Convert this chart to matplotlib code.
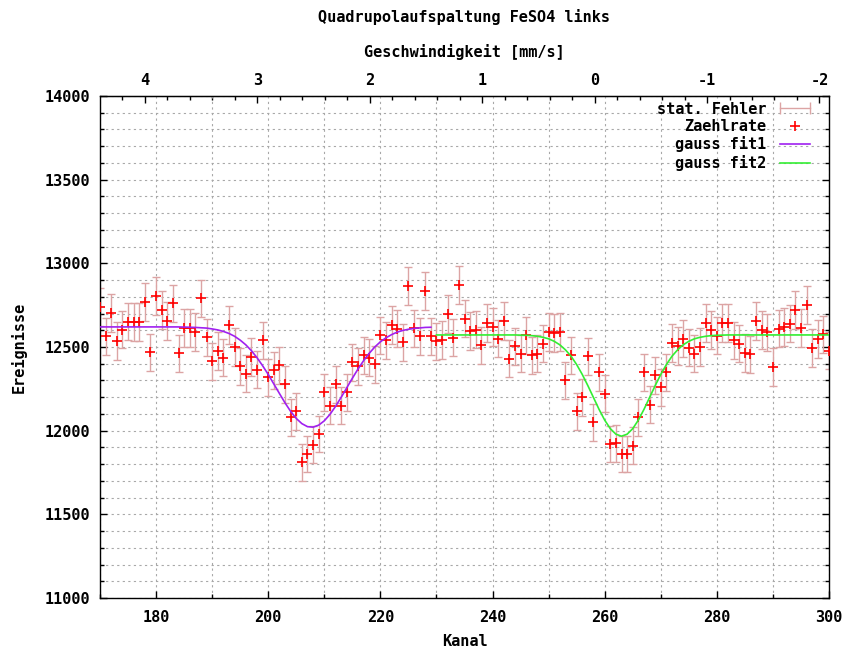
import numpy as np
import matplotlib
matplotlib.use("Agg")
import matplotlib.pyplot as plt
from matplotlib.ticker import MultipleLocator
from matplotlib.lines import Line2D
from matplotlib.legend_handler import HandlerLine2D

plt.rcParams['font.family'] = ['DejaVu Sans Mono', 'DejaVu Sans']
plt.rcParams['font.weight'] = 'bold'
plt.rcParams['axes.unicode_minus'] = False

# ---- data ----
channels = list(range(170, 301))
counts = [
    12740, 12564, 12704, 12536, 12604, 12652, 12648, 12648, 12768, 12468,   # 170-179
    12805, 12720, 12656, 12760, 12462, 12612, 12612, 12590, 12790, 12557,   # 180-189
    12415, 12476, 12436, 12630, 12500, 12384, 12340, 12440, 12364, 12540,   # 190-199
    12320, 12360, 12390, 12276, 12080, 12116, 11810, 11860, 11916, 11980,   # 200-209
    12229, 12148, 12276, 12148, 12230, 12408, 12384, 12450, 12436, 12396,   # 210-219
    12570, 12539, 12633, 12610, 12527, 12862, 12611, 12563, 12836, 12563,   # 220-229
    12534, 12541, 12696, 12556, 12870, 12670, 12596, 12604, 12510, 12644,   # 230-239
    12620, 12550, 12656, 12430, 12504, 12460, 12570, 12450, 12460, 12520,   # 240-249
    12590, 12584, 12590, 12300, 12450, 12116, 12200, 12444, 12050, 12350,   # 250-259
    12220, 11920, 11924, 11860, 11860, 11910, 12080, 12350, 12156, 12330,   # 260-269
    12260, 12350, 12524, 12507, 12550, 12496, 12460, 12500, 12644, 12600,   # 270-279
    12568, 12644, 12644, 12540, 12520, 12464, 12456, 12654, 12600, 12588,   # 280-289
    12380, 12610, 12620, 12640, 12720, 12615, 12751, 12494, 12548, 12575,   # 290-299
    12478,                                                                  # 300
]

fit1_channels = list(range(170, 230))
fit1_values = [
    12620, 12620, 12620, 12620, 12620, 12620, 12620, 12620, 12620, 12620,
    12620, 12620, 12620, 12620, 12620, 12619, 12618, 12617, 12615, 12613,
    12608, 12602, 12593, 12581, 12564, 12541, 12513, 12478, 12436, 12388,
    12336, 12279, 12222, 12166, 12115, 12073, 12042, 12024, 12021, 12033,
    12059, 12097, 12145, 12199, 12256, 12313, 12368, 12418, 12462, 12500,
    12531, 12555, 12574, 12589, 12599, 12606, 12611, 12614, 12617, 12618,
]

fit2_channels = list(range(230, 301))
fit2_values = [
    12572, 12572, 12572, 12572, 12572, 12572, 12572, 12572, 12572, 12572,
    12572, 12572, 12572, 12572, 12572, 12571, 12570, 12568, 12564, 12558,
    12549, 12534, 12513, 12483, 12445, 12395, 12336, 12269, 12198, 12127,
    12063, 12012, 11979, 11967, 11979, 12012, 12063, 12127, 12198, 12269,
    12336, 12395, 12445, 12483, 12513, 12534, 12549, 12558, 12564, 12568,
    12570, 12571, 12572, 12572, 12572, 12572, 12572, 12572, 12572, 12572,
    12572, 12572, 12572, 12572, 12572, 12572, 12572, 12572, 12572, 12572,
    12572,
]

# velocity calibration of the top axis
zero_channel = 258.2
channels_per_mms = 20.05
velocity_ticks = [4, 3, 2, 1, 0, -1, -2]

title = "Quadrupolaufspaltung FeSO4 links"
xlabel = "Kanal"
ylabel = "Ereignisse"
x2label = "Geschwindigkeit [mm/s]"
legend_labels = ["stat. Fehler", "Zaehlrate", "gauss fit1", "gauss fit2"]

# ---- styles ----
err_color = '#dca4a4'
pt_color = '#ff0000'
fit1_color = '#a020f0'
fit2_color = '#33ee33'
grid_color = '#a8a8a8'
fs = 11

fig = plt.figure(figsize=(8.48, 6.53), dpi=100)
ax = fig.add_axes([100/848, 1-598/653, 729/848, 502/653])

ch = np.array(channels)
cnt = np.array(counts, dtype=float)

ax.errorbar(ch, cnt, yerr=np.sqrt(cnt), fmt='none', ecolor=err_color,
            elinewidth=1.0, capsize=3.0, capthick=1.0, zorder=2)
pts, = ax.plot(ch, cnt, linestyle='none', marker='+', color=pt_color,
               ms=7, mew=1.2, zorder=3)
f1, = ax.plot(fit1_channels, fit1_values, color=fit1_color, lw=1.2, zorder=4)
f2, = ax.plot(fit2_channels, fit2_values, color=fit2_color, lw=1.2, zorder=4)

ax.set_xlim(170, 300)
ax.set_ylim(11000, 14000)
ax.xaxis.set_major_locator(MultipleLocator(20))
ax.xaxis.set_minor_locator(MultipleLocator(10))
ax.yaxis.set_major_locator(MultipleLocator(500))
ax.yaxis.set_minor_locator(MultipleLocator(100))
ax.grid(which='both', color=grid_color, linestyle=(0, (2, 3)), linewidth=0.8)
ax.set_axisbelow(True)
ax.tick_params(which='both', direction='in', top=False, right=True,
               labelsize=fs, width=1.0)
ax.tick_params(which='major', length=5)
ax.tick_params(which='minor', length=3)
ax.tick_params(axis='y', pad=7)
ax.tick_params(axis='x', pad=9)
for lab in ax.get_xticklabels() + ax.get_yticklabels():
    lab.set_fontweight('bold')
for sp in ax.spines.values():
    sp.set_linewidth(1.0)

ax.set_xlabel(xlabel, fontsize=fs, fontweight='bold', labelpad=6)
ax.set_ylabel(ylabel, fontsize=fs, fontweight='bold', labelpad=13)

def ch2v(x):
    return (zero_channel - np.asarray(x, dtype=float)) / channels_per_mms

def v2ch(v):
    return zero_channel - np.asarray(v, dtype=float) * channels_per_mms

sec = ax.secondary_xaxis('top', functions=(ch2v, v2ch))
sec.set_xticks(velocity_ticks)
sec.xaxis.set_minor_locator(MultipleLocator(0.2))
sec.tick_params(which='both', direction='in', labelsize=fs, pad=6, width=1.0)
sec.tick_params(which='major', length=5)
sec.tick_params(which='minor', length=3)
for lab in sec.get_xticklabels():
    lab.set_fontweight('bold')
sec.set_xlabel(x2label, fontsize=fs, fontweight='bold', labelpad=11)

fig.text(464/848, 1-17/653, title, ha='center', va='center',
         fontsize=fs, fontweight='bold')

err_proxy = Line2D([], [], color=err_color, lw=1.0, marker='|', ms=8, mew=1.0)
leg = ax.legend([err_proxy, pts, f1, f2], legend_labels,
                loc='upper right', bbox_to_anchor=(0.985, 0.995),
                frameon=False, markerfirst=False, numpoints=2,
                handlelength=2.6, handletextpad=0.6, labelspacing=0.16,
                borderaxespad=0.0, borderpad=0.2,
                prop={'family': 'DejaVu Sans Mono', 'weight': 'bold', 'size': fs},
                handler_map={pts: HandlerLine2D(numpoints=1)})

fig.savefig('out.png', dpi=100)
